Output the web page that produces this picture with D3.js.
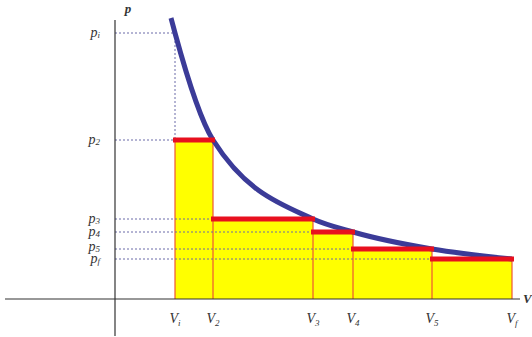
<!DOCTYPE html>
<html>
<head>
<meta charset="utf-8">
<script src="https://cdn.jsdelivr.net/npm/d3@7"></script>
<style>
  body { margin: 0; background: #fff; }
  text { font-family: "Liberation Serif", "DejaVu Serif", serif; font-style: italic; }
</style>
</head>
<body>
<svg id="chart" width="532" height="337"></svg>
<script>
// volumes (V_i, V_2 ... V_f) and pressures at those volumes
const volumes = [60, 98, 198, 238, 317, 397];
const pressures = [266, 159, 80, 67, 50, 40];
const vSubs = ['i', '2', '3', '4', '5', 'f'];
const pSubs = ['i', '2', '3', '4', '5', 'f'];
// isotherm drawn through these points (top start + the states)
const curveV = [56, 60, 98, 198, 238, 317, 397];
const curveP = [281, 266, 159, 80, 67, 50, 40];

const svg = d3.select('#chart');
const x = d3.scaleLinear().domain([0, 400]).range([115, 515]);
const y = d3.scaleLinear().domain([0, 280]).range([299, 19]);

// steps: each rectangle from V_k to V_k+1 at height p_k+1
const steps = d3.range(volumes.length - 1).map(i => ({
  v0: volumes[i], v1: volumes[i + 1], p: pressures[i + 1]
}));

// yellow rectangles
svg.append('g').selectAll('rect')
  .data(steps).enter().append('rect')
  .attr('x', d => x(d.v0))
  .attr('y', d => y(d.p))
  .attr('width', d => x(d.v1) - x(d.v0))
  .attr('height', d => y(0) - y(d.p))
  .attr('fill', '#ffff00');

// thin vertical edges (up to the taller neighbouring step)
svg.append('g').selectAll('line')
  .data(volumes).enter().append('line')
  .attr('x1', d => x(d)).attr('x2', d => x(d))
  .attr('y1', y(0))
  .attr('y2', (d, i) => y(pressures[Math.max(i, 1)]))
  .attr('stroke', '#ee5533')
  .attr('stroke-width', 1.2);

// dashed guides
const dash = svg.append('g')
  .attr('stroke', '#6a6aa8')
  .attr('stroke-width', 1)
  .attr('stroke-dasharray', '2,2');
dash.append('line')
  .attr('x1', x(0)).attr('x2', x(volumes[0]))
  .attr('y1', y(pressures[0])).attr('y2', y(pressures[0]));
dash.append('line')
  .attr('x1', x(volumes[0])).attr('x2', x(volumes[0]))
  .attr('y1', y(pressures[0])).attr('y2', y(pressures[1]));
dash.selectAll('.h')
  .data(steps).enter().append('line')
  .attr('x1', x(0)).attr('x2', d => x(d.v0))
  .attr('y1', d => y(d.p)).attr('y2', d => y(d.p));

// axes
svg.append('line')
  .attr('x1', 5).attr('x2', 520)
  .attr('y1', y(0)).attr('y2', y(0))
  .attr('stroke', '#333').attr('stroke-width', 1.2);
svg.append('line')
  .attr('x1', x(0)).attr('x2', x(0))
  .attr('y1', 20).attr('y2', 336)
  .attr('stroke', '#333').attr('stroke-width', 1.2);

// isotherm
const line = d3.line()
  .x((d, i) => x(curveV[i]))
  .y(d => y(d))
  .curve(d3.curveMonotoneX);
svg.append('path')
  .datum(curveP)
  .attr('d', line)
  .attr('fill', 'none')
  .attr('stroke', '#3b3b98')
  .attr('stroke-width', 5);

// red tops
svg.append('g').selectAll('line')
  .data(steps).enter().append('line')
  .attr('x1', d => x(d.v0) - 2).attr('x2', d => x(d.v1) + 2)
  .attr('y1', d => y(d.p)).attr('y2', d => y(d.p))
  .attr('stroke', '#e8101e')
  .attr('stroke-width', 5);

// tick labels
const pl = svg.append('g').selectAll('text')
  .data(pressures).enter().append('text')
  .attr('x', 100)
  .attr('y', (d, i) => y(d) + (i === 4 ? 2 : 4))
  .attr('text-anchor', 'end')
  .attr('font-size', 14)
  .attr('fill', '#333');
pl.append('tspan').text('p');
pl.append('tspan').attr('font-size', 9).attr('dy', 1).text((d, i) => pSubs[i]);

const vl = svg.append('g').selectAll('text')
  .data(volumes).enter().append('text')
  .attr('x', d => x(d))
  .attr('y', 323)
  .attr('text-anchor', 'middle')
  .attr('font-size', 14)
  .attr('fill', '#333');
vl.append('tspan').text('V');
vl.append('tspan').attr('font-size', 9).attr('dy', 3).text((d, i) => vSubs[i]);

// axis titles
svg.append('text').attr('x', 128).attr('y', 13)
  .attr('text-anchor', 'middle').attr('font-size', 13).attr('font-weight', 'bold')
  .attr('fill', '#333').text('p');
svg.append('text').attr('x', 523).attr('y', 303)
  .attr('font-size', 13).attr('font-weight', 'bold')
  .attr('fill', '#333').text('V');
</script>
</body>
</html>
